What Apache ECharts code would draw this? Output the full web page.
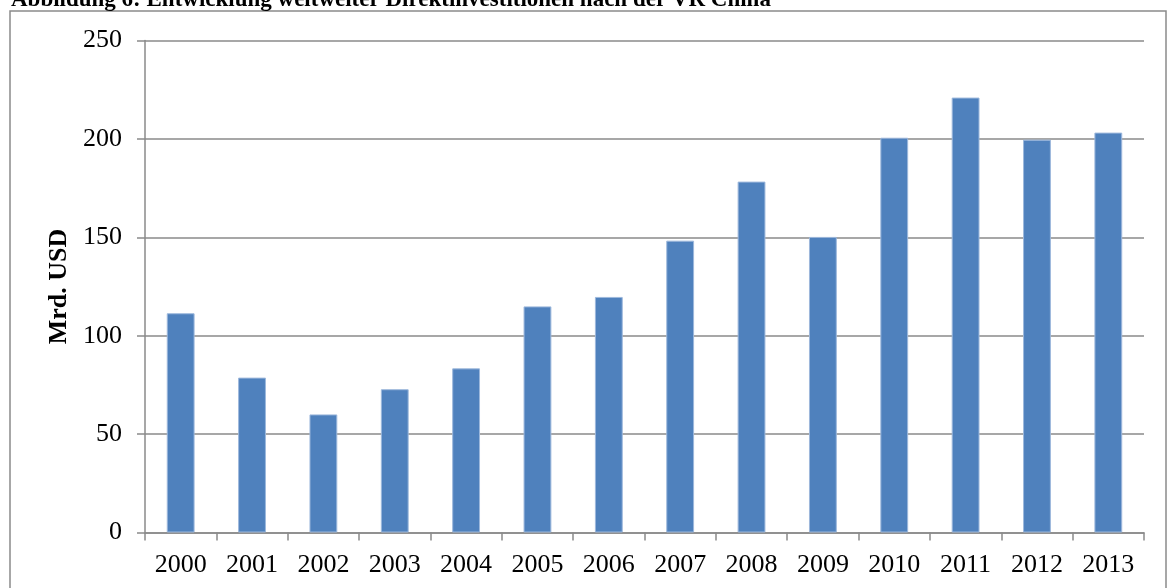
<!DOCTYPE html>
<html>
<head>
<meta charset="utf-8">
<style>
  html, body { margin: 0; padding: 0; background: #ffffff; }
  #chart { width: 1167px; height: 588px; }
</style>
<script src="https://cdn.jsdelivr.net/npm/echarts@6/dist/echarts.min.js"></script>
</head>
<body>
<div id="chart"></div>
<script>
// Weltweite Direktinvestitionen nach der VR China, Mrd. USD
const years = ['2000', '2001', '2002', '2003', '2004', '2005', '2006',
               '2007', '2008', '2009', '2010', '2011', '2012', '2013'];
const fdiValues = [111.4, 78.7, 60.0, 72.8, 83.4, 114.9, 119.7,
                   148.3, 178.3, 150.2, 200.6, 221.0, 199.6, 203.2];
const yTicks = [0, 50, 100, 150, 200, 250];

const titleText = 'Abbildung 6: Entwicklung weltweiter Direktinvestitionen nach der VR China';
const axisName = 'Mrd. USD';

const serif = '"Liberation Serif", "Times New Roman", serif';
const gray = '#8a8a8a';

const chart = echarts.init(document.getElementById('chart'), null, { renderer: 'canvas' });

chart.setOption({
  animation: false,
  backgroundColor: '#ffffff',
  title: {
    text: titleText,
    left: 6,
    top: -16,
    textStyle: { fontFamily: serif, fontSize: 23, fontWeight: 'bold', color: '#000' }
  },
  graphic: [{
    type: 'rect',
    shape: { x: 10, y: 11, width: 1156, height: 600 },
    style: { fill: 'none', stroke: gray, lineWidth: 1.5 },
    silent: true
  }],
  grid: { left: 145, right: 23, top: 40.5, bottom: 55.5 },
  xAxis: {
    type: 'category',
    data: years,
    boundaryGap: true,
    axisLine: { lineStyle: { color: gray, width: 1.5 } },
    axisTick: { show: true, alignWithLabel: false, length: 8, lineStyle: { color: gray, width: 1.5 } },
    axisLabel: { fontFamily: serif, fontSize: 26, color: '#000', margin: 20 },
    splitLine: { show: false }
  },
  yAxis: {
    type: 'value',
    min: yTicks[0],
    max: yTicks[yTicks.length - 1],
    interval: yTicks[1] - yTicks[0],
    name: axisName,
    nameLocation: 'middle',
    nameGap: 70,
    nameRotate: 90,
    nameTextStyle: { fontFamily: serif, fontSize: 26, fontWeight: 'bold', color: '#000' },
    axisLine: { show: true, lineStyle: { color: gray, width: 1.5 } },
    axisTick: { show: true, length: 8, lineStyle: { color: gray, width: 1.5 } },
    axisLabel: { fontFamily: serif, fontSize: 26, color: '#000', margin: 23 },
    splitLine: { show: true, lineStyle: { color: gray, width: 1.5 } }
  },
  series: [{
    type: 'bar',
    data: fdiValues,
    barWidth: '39%',
    itemStyle: { color: '#4F81BD', borderColor: '#9db8dc', borderWidth: 1 }
  }]
});
</script>
</body>
</html>
